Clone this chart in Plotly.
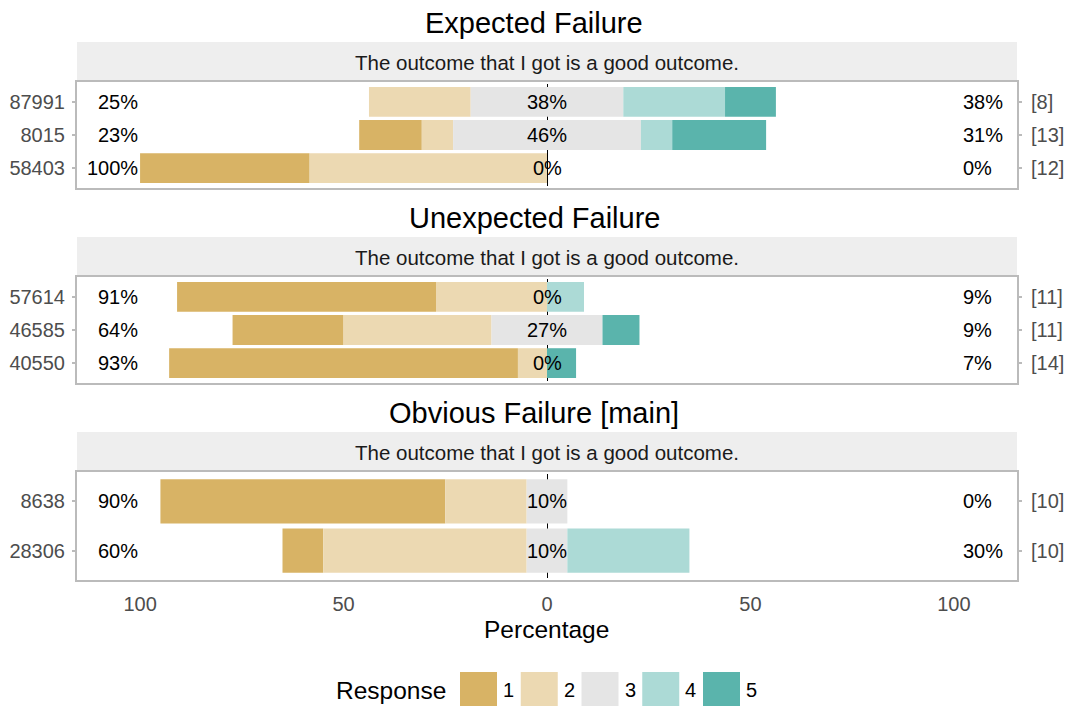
import plotly.graph_objects as go

# Likert responses, one count list per item (order 1..5)
RESPONSES = ["1", "2", "3", "4", "5"]
COLORS = ["#D8B365", "#ECD9B2", "#E5E5E5", "#ACDAD6", "#5AB4AC"]

PANEL_TITLES = ["Expected Failure", "Unexpected Failure", "Obvious Failure [main]"]
QUESTION = "The outcome that I got is a good outcome."

EXPECTED_ITEMS = ["87991", "8015", "58403"]
EXPECTED_COUNTS = [[0, 2, 3, 2, 1], [2, 1, 6, 1, 3], [5, 7, 0, 0, 0]]
UNEXPECTED_ITEMS = ["57614", "46585", "40550"]
UNEXPECTED_COUNTS = [[7, 3, 0, 1, 0], [3, 4, 3, 0, 1], [12, 1, 0, 0, 1]]
OBVIOUS_ITEMS = ["8638", "28306"]
OBVIOUS_COUNTS = [[7, 2, 1, 0, 0], [1, 5, 1, 3, 0]]

TICK_VALS = [-100, -75, -50, -25, 0, 25, 50, 75, 100]
TICK_TEXT = ["100", "", "50", "", "0", "", "50", "", "100"]

INK = "#000000"
MUTED = "#4D4D4D"
BORDER = "#BBBBBB"
STRIP = "#EEEEEE"
FONT = "Liberation Sans, Arial, sans-serif"

W, H = 1068, 706
L_PX, R_PX = 77, 1017        # panel edges, in pixels
# pixel rows of each panel: (title y, strip top, panel top, panel bottom)
PANEL_PX = [(23, 42, 82, 188), (218, 237, 277, 383), (413, 432, 472, 580)]


def py(p):  # pixel row -> paper y
    return 1 - p / H


def px(p):  # pixel column -> paper x
    return (p - L_PX) / (R_PX - L_PX)


def label(x, y, text, size, color=INK, xanchor="center", **kw):
    return dict(x=x, y=y, text=text, showarrow=False, xanchor=xanchor,
                yanchor="middle", font=dict(size=size, color=color), **kw)


panels = [(EXPECTED_ITEMS, EXPECTED_COUNTS),
          (UNEXPECTED_ITEMS, UNEXPECTED_COUNTS),
          (OBVIOUS_ITEMS, OBVIOUS_COUNTS)]

fig = go.Figure()
annotations, shapes = [], []

for i, (items, counts) in enumerate(panels):
    sfx = "" if i == 0 else str(i + 1)
    pct = [[100 * c / sum(row) for c in row] for row in counts]
    starts = [-(p[0] + p[1] + p[2] / 2) for p in pct]
    for k, resp in enumerate(RESPONSES):
        fig.add_bar(y=items, x=[p[k] for p in pct],
                    base=[s + sum(p[:k]) for s, p in zip(starts, pct)],
                    orientation="h", width=0.9, name=resp, showlegend=False,
                    marker=dict(color=COLORS[k], line_width=0),
                    xaxis="x" + sfx, yaxis="y" + sfx)

    # percentage labels: low / neutral / high, plus n on the right
    for j, (p, row) in enumerate(zip(pct, counts)):
        lo, mid, hi = round(p[0] + p[1]), round(p[2]), round(p[3] + p[4])
        ref = dict(xref="x" + sfx, yref="y" + sfx)
        annotations.append(label(-100, j, f"{lo}%", 20, xanchor="right", **ref))
        annotations.append(label(0, j, f"{mid}%", 20, **ref))
        annotations.append(label(100, j, f"{hi}%", 20, xanchor="left", xshift=7, **ref))
        annotations.append(label(px(1029), j, f"[{sum(row)}]", 20, MUTED,
                                 xanchor="left", xref="paper", yref="y" + sfx))

    t_y, s_top, p_top, p_bot = PANEL_PX[i]
    shapes.append(dict(type="rect", xref="paper", yref="paper", x0=0, x1=1,
                       y0=py(p_top), y1=py(s_top), fillcolor=STRIP, line_width=0,
                       layer="below"))
    annotations.append(label(px(534), py(t_y), PANEL_TITLES[i], 29,
                             xref="paper", yref="paper"))
    annotations.append(label(0.5, py((s_top + p_top) / 2), QUESTION, 20.5, "#1A1A1A",
                             xref="paper", yref="paper"))

    last = i == len(panels) - 1
    fig.layout["xaxis" + sfx] = dict(
        domain=[0, 1], anchor="y" + sfx, range=[-115.5, 115.5],
        showline=True, linecolor=BORDER, linewidth=2, mirror="ticks",
        ticks="inside", tickcolor="white", ticklen=2, tickwidth=1,
        tickvals=TICK_VALS, ticktext=TICK_TEXT, showticklabels=last,
        ticklabelstandoff=5, tickfont=dict(size=20, color=MUTED),
        showgrid=False, zeroline=True, zerolinecolor=INK, zerolinewidth=1.2,
        fixedrange=True)
    fig.layout["yaxis" + sfx] = dict(
        domain=[py(p_bot), py(p_top)], anchor="x" + sfx, type="category",
        categoryorder="array", categoryarray=items,
        range=[len(items) - 0.4, -0.6],
        showline=True, linecolor=BORDER, linewidth=2, mirror="ticks",
        ticks="outside", tickcolor=BORDER, ticklen=3, tickwidth=1.5,
        ticklabelstandoff=3, tickfont=dict(size=20, color=MUTED),
        showgrid=False, zeroline=False, fixedrange=True)

# x-axis title
annotations.append(label(px(546.5), py(629), "Percentage", 24.5,
                         xref="paper", yref="paper"))

# legend drawn by hand so the keys match the large square swatches
annotations.append(label(px(448), py(690), "Response", 24.5, xanchor="right",
                         xref="paper", yref="paper"))
for k, (resp, color) in enumerate(zip(RESPONSES, COLORS)):
    x0 = 460 + k * 60.75
    shapes.append(dict(type="rect", xref="paper", yref="paper",
                       x0=px(x0), x1=px(x0 + 37), y0=py(706), y1=py(672),
                       fillcolor=color, line_width=0))
    annotations.append(label(px(x0 + 41), py(690), resp, 20, xanchor="left",
                             xref="paper", yref="paper"))

fig.update_layout(
    width=W, height=H, barmode="overlay", showlegend=False,
    margin=dict(l=L_PX, r=W - R_PX, t=0, b=0),
    paper_bgcolor="white", plot_bgcolor="white",
    font=dict(family=FONT, size=20, color=INK),
    annotations=annotations, shapes=shapes,
)

# drop the default page margin so the figure fills the window exactly
fig.write_html("out.html", config={"displayModeBar": False},
               post_script="document.body.style.margin = '0';")
